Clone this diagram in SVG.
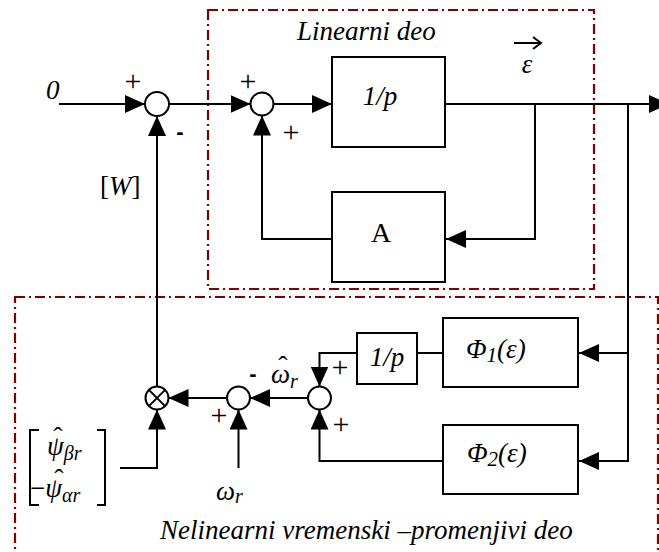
<svg xmlns="http://www.w3.org/2000/svg" width="659" height="552" viewBox="0 0 659 552">
<style>
.ln{fill:none;stroke:#000;stroke-width:2}
.bx{fill:#fff;stroke:#000;stroke-width:2}
.sum{fill:#fff;stroke:#000;stroke-width:2}
.reg{fill:none;stroke:#800000;stroke-width:2.2;stroke-dasharray:10 4 2 4}
.it{font-family:"Liberation Serif",serif;font-style:italic;font-size:27px;fill:#000}
.up{font-family:"Liberation Serif",serif;font-size:28px;fill:#000}
.pl{font-family:"Liberation Serif",serif;font-size:30px;fill:#000;text-anchor:middle}
.mi{font-family:"Liberation Sans",sans-serif;font-weight:bold;font-size:22px;fill:#000;text-anchor:middle}
</style>
<defs>
<marker id="ah" markerUnits="userSpaceOnUse" markerWidth="20" markerHeight="18" refX="20" refY="9" orient="auto" viewBox="0 0 20 18">
<path d="M0,0 L20,9 L0,18 z" fill="#000"/>
</marker>
</defs>
<rect width="659" height="552" fill="#fff"/>

<g id="regions">
<rect class="reg" x="208" y="10" width="386" height="279"/>
<rect class="reg" x="15" y="297" width="643" height="270"/>
<text class="it" x="297" y="40">Linearni deo</text>
<text class="it" x="160" y="539" font-size="27.6">Nelinearni vremenski –promenjivi deo</text>
</g>

<g id="connectors">
<path class="ln" d="M59,104 H145" marker-end="url(#ah)"/>
<path class="ln" d="M169,104 H250.5" marker-end="url(#ah)"/>
<path class="ln" d="M273.5,104 H332" marker-end="url(#ah)"/>
<path class="ln" d="M445,104 H669" marker-end="url(#ah)"/>
<path class="ln" d="M535,104 V239 H446" marker-end="url(#ah)"/>
<path class="ln" d="M332,239 H262 V115.5" marker-end="url(#ah)"/>
<path class="ln" d="M157,386.5 V116" marker-end="url(#ah)"/>
<path class="ln" d="M628,104 V461 H579" marker-end="url(#ah)"/>
<path class="ln" d="M628,353 H579" marker-end="url(#ah)"/>
<path class="ln" d="M443,353 H417"/>
<path class="ln" d="M357,353 H319.5 V386.5" marker-end="url(#ah)"/>
<path class="ln" d="M443,461 H319.5 V409.5" marker-end="url(#ah)"/>
<path class="ln" d="M308,398 H250" marker-end="url(#ah)"/>
<path class="ln" d="M227,398 H168.5" marker-end="url(#ah)"/>
<path class="ln" d="M238.5,468 V409.5" marker-end="url(#ah)"/>
<path class="ln" d="M120,468 H157 V409.5" marker-end="url(#ah)"/>
</g>

<g id="input0">
<text class="it" x="46" y="99">0</text>
</g>

<g id="sum1">
<circle class="sum" cx="157" cy="104" r="12"/>
<text class="pl" x="133" y="91">+</text>
<text class="mi" x="180" y="139">-</text>
<text class="it" x="100" y="195"><tspan font-style="normal">[</tspan>W<tspan font-style="normal">]</tspan></text>
</g>

<g id="sum2">
<circle class="sum" cx="262" cy="104" r="11.5"/>
<text class="pl" x="248" y="91">+</text>
<text class="pl" x="291" y="142">+</text>
</g>

<g id="integrator">
<rect class="bx" x="332" y="57" width="113" height="90"/>
<text class="it" x="380" y="105" text-anchor="middle">1/p</text>
</g>

<g id="epsilon">
<text class="it" x="527" y="73" text-anchor="middle">ε</text>
<path class="ln" d="M514,43 H541 M533,37 L541,43 L533,49" stroke-width="1.6"/>
</g>

<g id="blockA">
<rect class="bx" x="332" y="192" width="113" height="90"/>
<text class="up" x="381" y="242" text-anchor="middle">A</text>
</g>

<g id="phi1">
<rect class="bx" x="443" y="318" width="135" height="69"/>
<text class="it" x="466" y="358">Φ<tspan font-size="21" dy="4">1</tspan><tspan dy="-4">(ε)</tspan></text>
</g>

<g id="phi2">
<rect class="bx" x="443" y="425" width="135" height="69"/>
<text class="it" x="467" y="462">Φ<tspan font-size="21" dy="4">2</tspan><tspan dy="-4">(ε)</tspan></text>
</g>

<g id="integrator2">
<rect class="bx" x="357" y="333" width="60" height="51"/>
<text class="it" x="387" y="366" text-anchor="middle">1/p</text>
</g>

<g id="sum3">
<circle class="sum" cx="319.5" cy="398" r="11.5"/>
<text class="pl" x="340" y="377">+</text>
<text class="pl" x="341" y="434">+</text>
</g>

<g id="sum4">
<circle class="sum" cx="238.5" cy="398" r="11.5"/>
<text class="mi" x="253" y="381">-</text>
<text class="pl" x="219" y="425">+</text>
<text class="it" x="271" y="383" font-size="29">ω<tspan font-size="20" dy="5">r</tspan><tspan x="278.3" y="375" font-size="28" font-style="normal">ˆ</tspan></text>
</g>

<g id="omega_r">
<text class="it" x="216" y="500" font-size="29">ω<tspan font-size="20" dy="3">r</tspan></text>
</g>

<g id="mult">
<circle class="sum" cx="157" cy="398" r="11.5"/>
<path class="ln" d="M148.9,389.9 L165.1,406.1 M165.1,389.9 L148.9,406.1"/>
</g>

<g id="psiVector">
<path class="ln" d="M39,430 H30 V505 H39 M97,430 H105 V505 H97" stroke-width="1.6"/>
<text class="it" x="47" y="455" font-size="31">ψ<tspan font-size="20" dy="5">βr</tspan><tspan x="53.3" y="446" font-size="28" font-style="normal">ˆ</tspan></text>
<text class="it" x="30" y="497" font-size="31"><tspan font-style="normal">−</tspan>ψ<tspan font-size="20" dy="5">αr</tspan><tspan x="54.3" y="488" font-size="28" font-style="normal">ˆ</tspan></text>
</g>
</svg>
